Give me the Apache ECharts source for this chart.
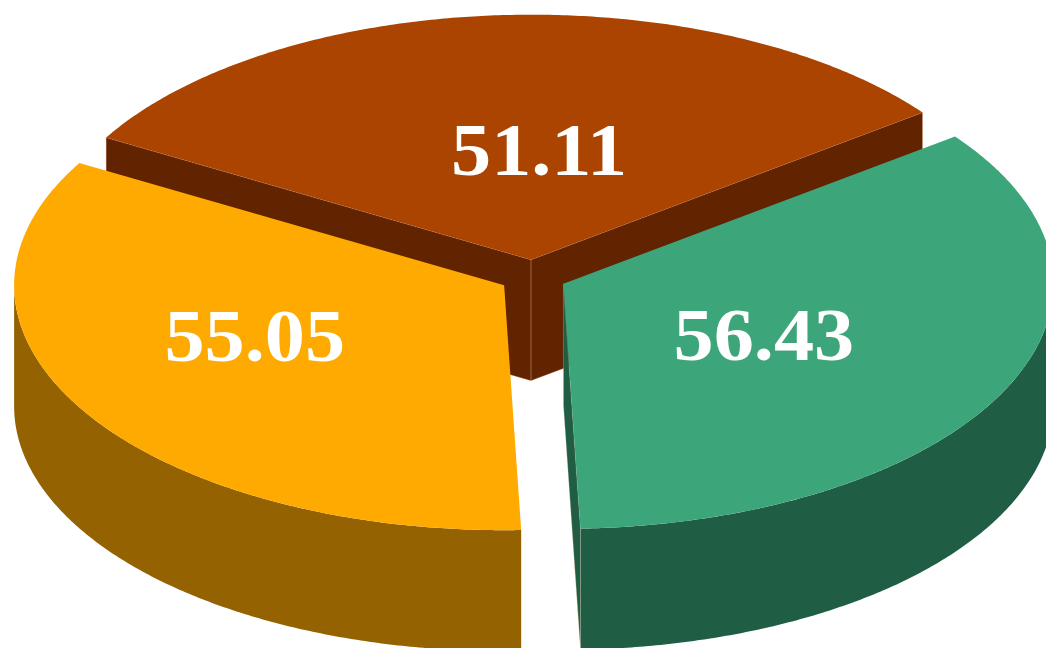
<!DOCTYPE html>
<html>
<head>
<meta charset="utf-8">
<script src="https://cdn.jsdelivr.net/npm/echarts@6/dist/echarts.min.js"></script>
<style>
  html, body { margin: 0; padding: 0; background: #ffffff; }
  #chart { width: 1046px; height: 648px; }
</style>
</head>
<body>
<div id="chart"></div>
<script>
// Slice values, in drawing order (back slice first, then counter-clockwise)
const sliceValues = [51.11, 55.05, 56.43];
const sliceLabels = sliceValues.map(v => v.toFixed(2));

// Colours of the top faces and of the side walls
const topColors  = ['#AA4400', '#FFAA00', '#3CA67A'];
const sideColors = ['#622300', '#946200', '#1F5E45'];

// Geometry of the tilted pie (pixels / degrees)
const CX = 533, CY = 276.5;    // centre of the un-exploded top face
const R = 490;                 // radius of the disc
const KY = 0.5;                // vertical squash from the tilt
const DEPTH = 121;             // thickness of the disc
const EXPLODE = 33.7;          // how far each slice is pulled out
const START = 36.94;           // angle of the first slice edge (ccw, degrees)
// label anchor per slice: fraction of radius and angle shift from mid-angle
const LABEL_LAYOUT = [
  { r: 0.44,  shift: -5.7 },
  { r: 0.553, shift: -8.0 },
  { r: 0.463, shift: -2.4 }
];
const LABEL_DY = 4;            // nudges the digits' ink onto the anchor

const total = sliceValues.reduce((a, b) => a + b, 0);
const spans = sliceValues.map(v => v / total * 360);
const starts = [];
spans.reduce((acc, s) => { starts.push(acc); return acc + s; }, START);

const rad = d => d * Math.PI / 180;
function proj(ox, oy, deg, r, dz) {
  return [ox + r * Math.cos(rad(deg)), oy - KY * r * Math.sin(rad(deg)) + (dz || 0)];
}
function arc(ox, oy, a0, a1, dz) {
  const n = Math.max(2, Math.ceil(Math.abs(a1 - a0) / 0.5) + 1);
  const pts = [];
  for (let k = 0; k < n; k++) {
    const a = a0 + (a1 - a0) * k / (n - 1);
    pts.push(proj(ox, oy, a, R, dz));
  }
  return pts;
}

function renderSlice(params, api) {
  const i = params.dataIndex;
  const span = api.value(0) / total * 360;
  const a0 = starts[i], a1 = a0 + span, mid = (a0 + a1) / 2;
  const ox = CX + EXPLODE * Math.cos(rad(mid));
  const oy = CY - KY * EXPLODE * Math.sin(rad(mid));
  const side = sideColors[i], top = topColors[i];
  const edge = 'rgba(255,200,160,0.35)';
  const children = [];

  // curved outer wall: only the part facing the viewer
  for (let k = -1; k <= 1; k++) {
    const lo = Math.max(a0, 180 + 360 * k), hi = Math.min(a1, 360 + 360 * k);
    if (hi > lo) {
      const pts = arc(ox, oy, lo, hi, 0).concat(arc(ox, oy, hi, lo, DEPTH));
      children.push({ type: 'polygon', shape: { points: pts }, style: { fill: side } });
    }
  }
  // flat cut walls along the radial edges
  const wall = (a) => ({
    type: 'polygon',
    shape: { points: [[ox, oy], proj(ox, oy, a, R, 0), proj(ox, oy, a, R, DEPTH), [ox, oy + DEPTH]] },
    style: { fill: side, stroke: edge, lineWidth: 0.8 }
  });
  if (Math.cos(rad(a0)) > 0) children.push(wall(a0));
  if (Math.cos(rad(a1)) < 0) children.push(wall(a1));

  // top face
  children.push({
    type: 'polygon',
    shape: { points: [[ox, oy]].concat(arc(ox, oy, a0, a1, 0)) },
    style: { fill: top }
  });

  // value label
  const lay = LABEL_LAYOUT[i];
  const lp = proj(ox, oy, mid + lay.shift, R * lay.r, 0);
  children.push({
    type: 'text',
    x: lp[0], y: lp[1] + LABEL_DY,
    scaleX: 1.1,
    style: {
      text: sliceLabels[i],
      x: 0, y: 0,
      fill: '#ffffff',
      font: 'bold 73px "Liberation Serif", "Times New Roman", serif',
      align: 'center',
      verticalAlign: 'middle'
    }
  });
  return { type: 'group', children };
}

const chart = echarts.init(document.getElementById('chart'), null, { renderer: 'canvas' });
chart.setOption({
  backgroundColor: '#ffffff',
  animation: false,
  series: [{
    type: 'custom',
    coordinateSystem: 'none',
    renderItem: renderSlice,
    data: sliceValues.map(v => [v])
  }]
});
</script>
</body>
</html>
